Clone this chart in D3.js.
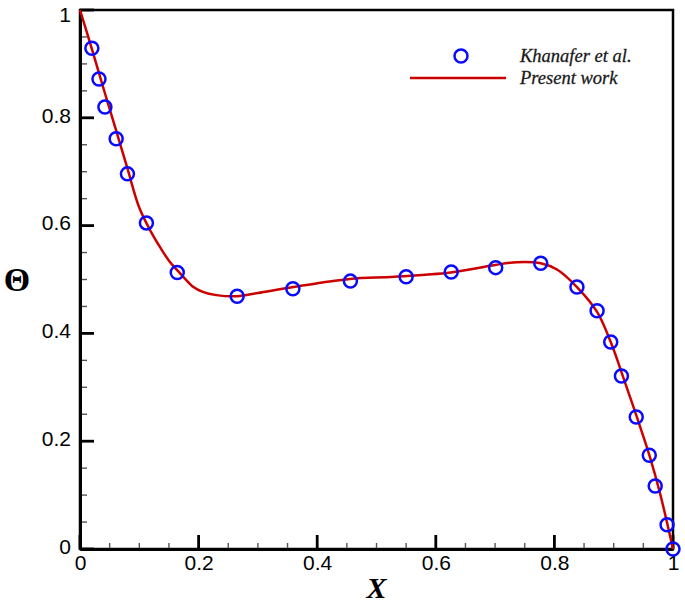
<!DOCTYPE html>
<html>
<head>
<meta charset="utf-8">
<script src="https://cdn.jsdelivr.net/npm/d3@7"></script>
<style>
  body { margin: 0; background: #fff; }
  svg { display: block; }
</style>
</head>
<body>
<div id="grafico"></div>
<script>
// Khanafer et al. (pontos)
const refX = [0.020, 0.032, 0.042, 0.061, 0.080, 0.112, 0.164, 0.265, 0.359, 0.456, 0.550, 0.626, 0.701, 0.777, 0.838, 0.872, 0.895, 0.913, 0.938, 0.960, 0.970, 0.990, 1.000];
const refY = [0.929, 0.872, 0.820, 0.761, 0.696, 0.605, 0.513, 0.469, 0.483, 0.497, 0.505, 0.514, 0.522, 0.530, 0.486, 0.442, 0.384, 0.321, 0.245, 0.174, 0.117, 0.045, 0.000];

// Present work (linha)
const atualX = [0, 0.02, 0.04, 0.06, 0.08, 0.10, 0.12, 0.135, 0.15, 0.165, 0.18, 0.19, 0.207, 0.23, 0.265, 0.30, 0.36, 0.455, 0.53, 0.625, 0.70, 0.737, 0.777, 0.805, 0.838, 0.872, 0.895, 0.916, 0.939, 0.961, 0.978, 1.0];
const atualY = [1, 0.928, 0.853, 0.780, 0.706, 0.633, 0.588, 0.560, 0.535, 0.516, 0.498, 0.487, 0.477, 0.471, 0.469, 0.475, 0.486, 0.501, 0.505, 0.513, 0.527, 0.532, 0.530, 0.518, 0.486, 0.440, 0.384, 0.319, 0.245, 0.171, 0.104, 0.0];

const xTicks = [0, 0.2, 0.4, 0.6, 0.8, 1];
const yTicks = [0, 0.2, 0.4, 0.6, 0.8, 1];
const xTickLabels = ['0', '0.2', '0.4', '0.6', '0.8', '1'];
const yTickLabels = ['0', '0.2', '0.4', '0.6', '0.8', '1'];
const legenda = ['Khanafer et al.', 'Present work'];

const width = 685, height = 603;
const margem = { top: 10, right: 12, bottom: 54, left: 80 };

const svg = d3.select('#grafico')
  .append('svg')
  .attr('width', width)
  .attr('height', height);

const x = d3.scaleLinear().domain([0, 1]).range([margem.left, width - margem.right]);
const y = d3.scaleLinear().domain([0, 1]).range([height - margem.bottom, margem.top]);

const minX = d3.range(0, 1.0001, 0.05).filter(v => Math.abs(v * 5 - Math.round(v * 5)) > 1e-6);
const minY = minX;

// moldura
svg.append('rect')
  .attr('x', x(0)).attr('y', y(1))
  .attr('width', x(1) - x(0)).attr('height', y(0) - y(1))
  .attr('fill', 'none').attr('stroke', '#000').attr('stroke-width', 2.5);

// marcas (para dentro do grafico)
const marcas = svg.append('g');
marcas.selectAll('line.mx')
  .data(minX).enter().append('line')
  .attr('x1', d => x(d)).attr('x2', d => x(d))
  .attr('y1', y(0)).attr('y2', y(0) - 6)
  .attr('stroke', '#555').attr('stroke-width', 1.4);
marcas.selectAll('line.my')
  .data(minY).enter().append('line')
  .attr('y1', d => y(d)).attr('y2', d => y(d))
  .attr('x1', x(0)).attr('x2', x(0) + 7)
  .attr('stroke', '#555').attr('stroke-width', 1.4);
marcas.selectAll('line.Mx')
  .data(xTicks).enter().append('line')
  .attr('x1', d => x(d)).attr('x2', d => x(d))
  .attr('y1', y(0)).attr('y2', y(0) - 14)
  .attr('stroke', '#000').attr('stroke-width', 2.8);
marcas.selectAll('line.My')
  .data(yTicks).enter().append('line')
  .attr('y1', d => y(d)).attr('y2', d => y(d))
  .attr('x1', x(0)).attr('x2', x(0) + 14)
  .attr('stroke', '#000').attr('stroke-width', 2.8);

// eixos
const eixoX = svg.append('g').attr('transform', `translate(0,${y(0)})`)
  .call(d3.axisBottom(x).tickValues(xTicks).tickSize(0).tickFormat((d, i) => xTickLabels[i]).tickPadding(6));
const eixoY = svg.append('g').attr('transform', `translate(${x(0)},0)`)
  .call(d3.axisLeft(y).tickValues(yTicks).tickSize(0).tickFormat((d, i) => yTickLabels[i]).tickPadding(9));

[eixoX, eixoY].forEach(g => {
  g.select('.domain').attr('stroke', '#000').attr('stroke-width', 3);
  g.selectAll('.tick text')
    .attr('font-family', 'Liberation Sans, Arial, sans-serif')
    .attr('font-size', 21).attr('fill', '#000');
});
eixoY.selectAll('.tick text').attr('dy', '0.2em');
eixoY.selectAll('.tick').filter(d => d === 1).select('text').attr('dy', '0.55em');
eixoX.selectAll('.tick text').attr('dy', '0.72em');

// linha do trabalho atual
const linha = d3.line()
  .x(d => x(d[0])).y(d => y(d[1]))
  .curve(d3.curveCatmullRom.alpha(0.5));

svg.append('path')
  .datum(atualX.map((v, i) => [v, atualY[i]]))
  .attr('d', linha)
  .attr('fill', 'none')
  .attr('stroke', '#cc0000')
  .attr('stroke-width', 2.5);

// pontos de referencia
svg.selectAll('circle.ref')
  .data(refX.map((v, i) => [v, refY[i]]))
  .enter()
  .append('circle')
  .attr('class', 'ref')
  .attr('cx', d => x(d[0]))
  .attr('cy', d => y(d[1]))
  .attr('r', 6.5)
  .attr('fill', 'none')
  .attr('stroke', '#0a0aff')
  .attr('stroke-width', 2.5);

// legenda
svg.append('circle')
  .attr('cx', 461).attr('cy', 56).attr('r', 6.5)
  .attr('fill', 'none').attr('stroke', '#0a0aff').attr('stroke-width', 2.5);
svg.append('line')
  .attr('x1', 410).attr('x2', 506).attr('y1', 78).attr('y2', 78)
  .attr('stroke', '#cc0000').attr('stroke-width', 2.5);
svg.selectAll('text.leg')
  .data(legenda)
  .enter()
  .append('text')
  .attr('class', 'leg')
  .attr('x', 520)
  .attr('y', (d, i) => 56 + i * 22)
  .attr('dy', '0.35em')
  .attr('font-family', 'Liberation Serif, Times New Roman, serif')
  .attr('font-style', 'italic')
  .attr('font-size', 18.5)
  .attr('fill', '#111')
  .attr('stroke', '#333').attr('stroke-width', 0.3)
  .text(d => d);

// titulos dos eixos
svg.append('text')
  .attr('x', (x(0) + x(1)) / 2).attr('y', 598)
  .attr('text-anchor', 'middle')
  .attr('font-family', 'Liberation Serif, Times New Roman, serif')
  .attr('font-style', 'italic').attr('font-weight', 'bold')
  .attr('font-size', 30)
  .text('X');

svg.append('text')
  .attr('x', 17).attr('y', y(0.5))
  .attr('text-anchor', 'middle')
  .attr('dy', '0.35em')
  .attr('font-family', 'Liberation Serif, Times New Roman, serif')
  .attr('font-weight', 'bold')
  .attr('font-size', 34)
  .text('Θ');
</script>
</body>
</html>
